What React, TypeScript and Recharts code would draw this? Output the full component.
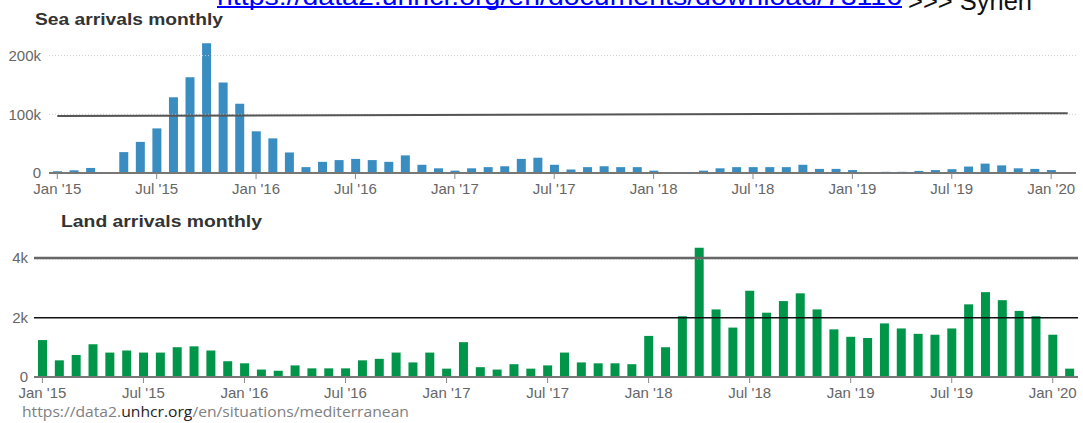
import React from 'react';
import { BarChart, Bar, XAxis, YAxis, ReferenceLine } from 'recharts';

const months = [
  "Jan '15", "Feb '15", "Mar '15", "Apr '15", "May '15", "Jun '15", "Jul '15", "Aug '15", "Sep '15", "Oct '15", "Nov '15", "Dec '15",
  "Jan '16", "Feb '16", "Mar '16", "Apr '16", "May '16", "Jun '16", "Jul '16", "Aug '16", "Sep '16", "Oct '16", "Nov '16", "Dec '16",
  "Jan '17", "Feb '17", "Mar '17", "Apr '17", "May '17", "Jun '17", "Jul '17", "Aug '17", "Sep '17", "Oct '17", "Nov '17", "Dec '17",
  "Jan '18", "Feb '18", "Mar '18", "Apr '18", "May '18", "Jun '18", "Jul '18", "Aug '18", "Sep '18", "Oct '18", "Nov '18", "Dec '18",
  "Jan '19", "Feb '19", "Mar '19", "Apr '19", "May '19", "Jun '19", "Jul '19", "Aug '19", "Sep '19", "Oct '19", "Nov '19", "Dec '19",
  "Jan '20", "Feb '20",
];

const tickMonths = ["Jan '15", "Jul '15", "Jan '16", "Jul '16", "Jan '17", "Jul '17", "Jan '18", "Jul '18", "Jan '19", "Jul '19", "Jan '20"];

const seaArrivals = [
  3000, 4600, 8600, 0, 35600, 53000, 76000, 129000, 163000, 221000, 154000, 118000,
  71000, 59000, 35000, 10000, 19000, 22000, 24000, 22000, 19000, 30000, 14000, 8000,
  4000, 8000, 10000, 11500, 24000, 26000, 14000, 6000, 10000, 11500, 10000, 10000,
  4000, 1500, 1500, 4000, 8000, 10000, 10000, 10000, 10000, 14000, 7000, 7000,
  5000, 0, 2000, 2000, 3500, 5000, 6500, 11000, 16000, 13000, 8000, 7000,
  5000, 0,
];

const landArrivals = [
  1240, 560, 740, 1100, 820, 890, 820, 820, 1000, 1030, 890, 530,
  460, 250, 210, 390, 290, 290, 290, 560, 610, 820, 490, 820,
  280, 1170, 330, 250, 430, 280, 390, 820, 490, 460, 460, 430,
  1380, 1000, 2040, 4340, 2270, 1660, 2900, 2160, 2550, 2810, 2270, 1600,
  1350, 1310, 1800, 1630, 1450, 1420, 1630, 2440, 2850, 2580, 2220, 2040,
  1420, 280,
];

const seaTicks = [0, 100000, 200000];
const landTicks = [0, 2000, 4000];

const data = months.map((m, i) => ({ month: m, sea: seaArrivals[i], land: landArrivals[i] }));

const font = "'Liberation Sans', Arial, sans-serif";
const tickStyle = { fill: '#666', fontSize: 15, fontFamily: font };

const fmtK = (v: number) => (v === 0 ? '0' : `${v / 1000}k`);

export default function App() {
  return (
    <div style={{ position: 'absolute', left: 0, top: 0, width: 1083, height: 423, background: '#fff', overflow: 'hidden' }}>
      <div style={{ position: 'absolute', left: 0, top: 0 }}>
        <BarChart width={1083} height={200} data={data} margin={{ top: 38, right: 7, bottom: 0, left: 0 }} barCategoryGap={0}>
          <XAxis dataKey="month" ticks={tickMonths} interval={0} height={27} tickSize={6} tickMargin={4}
            tick={tickStyle} axisLine={{ stroke: '#777', strokeWidth: 2 }} tickLine={{ stroke: '#888' }} />
          <YAxis domain={[0, 230000]} ticks={seaTicks} tickFormatter={fmtK} width={49} tickSize={6} tickMargin={2}
            tick={tickStyle} axisLine={false} tickLine={false} />
          {/* faint dotted grid, as in the source */}
          <ReferenceLine y={200000} stroke="#cfcfcf" strokeDasharray="1 2" />
          <ReferenceLine y={100000} stroke="#cfcfcf" strokeDasharray="1 2" />
          <Bar dataKey="sea" fill="#3a8dc0" barSize={9} isAnimationActive={false} />
          {/* hand-drawn marker line on the slide */}
          <ReferenceLine segment={[{ x: "Jan '15", y: 97000 }, { x: "Feb '20", y: 102000 }]} stroke="#555" strokeWidth={2} />
        </BarChart>
      </div>
      <div style={{ position: 'absolute', left: 0, top: 200 }}>
        <BarChart width={1083} height={204} data={data} margin={{ top: 43, right: 5, bottom: 0, left: 0 }} barCategoryGap={0}>
          <XAxis dataKey="month" ticks={tickMonths} interval={0} height={27} tickSize={6} tickMargin={4}
            tick={tickStyle} axisLine={{ stroke: '#777', strokeWidth: 2 }} tickLine={{ stroke: '#888' }} />
          <YAxis domain={[0, 4500]} ticks={landTicks} tickFormatter={fmtK} width={34} tickSize={4} tickMargin={2}
            tick={tickStyle} axisLine={false} tickLine={false} />
          <ReferenceLine y={3960} stroke="#cfcfcf" strokeDasharray="1 2" />
          <Bar dataKey="land" fill="#00964a" barSize={9} isAnimationActive={false} />
          <ReferenceLine y={4000} stroke="#666" strokeWidth={2.5} />
          <ReferenceLine y={1990} stroke="#111" strokeWidth={1.5} />
        </BarChart>
      </div>
      <svg width={1083} height={423} style={{ position: 'absolute', left: 0, top: 0, pointerEvents: 'none' }}>
        <text x={217} y={5} fontSize={25} fill="#0000ff" fontFamily={font} textLength={685} lengthAdjust="spacingAndGlyphs">
          https://data2.unhcr.org/en/documents/download/73116
        </text>
        <rect x={217} y={6} width={685} height={2} fill="#0000ff" />
        <text x={908} y={9.5} fontSize={26} fill="#111" fontFamily={font} textLength={124} lengthAdjust="spacingAndGlyphs">
          {'>>> Syrien'}
        </text>
        <text x={35} y={25} fontSize={16.5} fontWeight="bold" fill="#333" fontFamily={font} textLength={188} lengthAdjust="spacingAndGlyphs">
          Sea arrivals monthly
        </text>
        <text x={61} y={227} fontSize={16.5} fontWeight="bold" fill="#333" fontFamily={font} textLength={201} lengthAdjust="spacingAndGlyphs">
          Land arrivals monthly
        </text>
        <text x={22} y={417} fontSize={15} fill="#808080" fontFamily="'Open Sans', 'Liberation Sans', sans-serif" textLength={387} lengthAdjust="spacingAndGlyphs">
          https://data2.<tspan fill="#222">unhcr.org</tspan>/en/situations/mediterranean
        </text>
      </svg>
    </div>
  );
}
